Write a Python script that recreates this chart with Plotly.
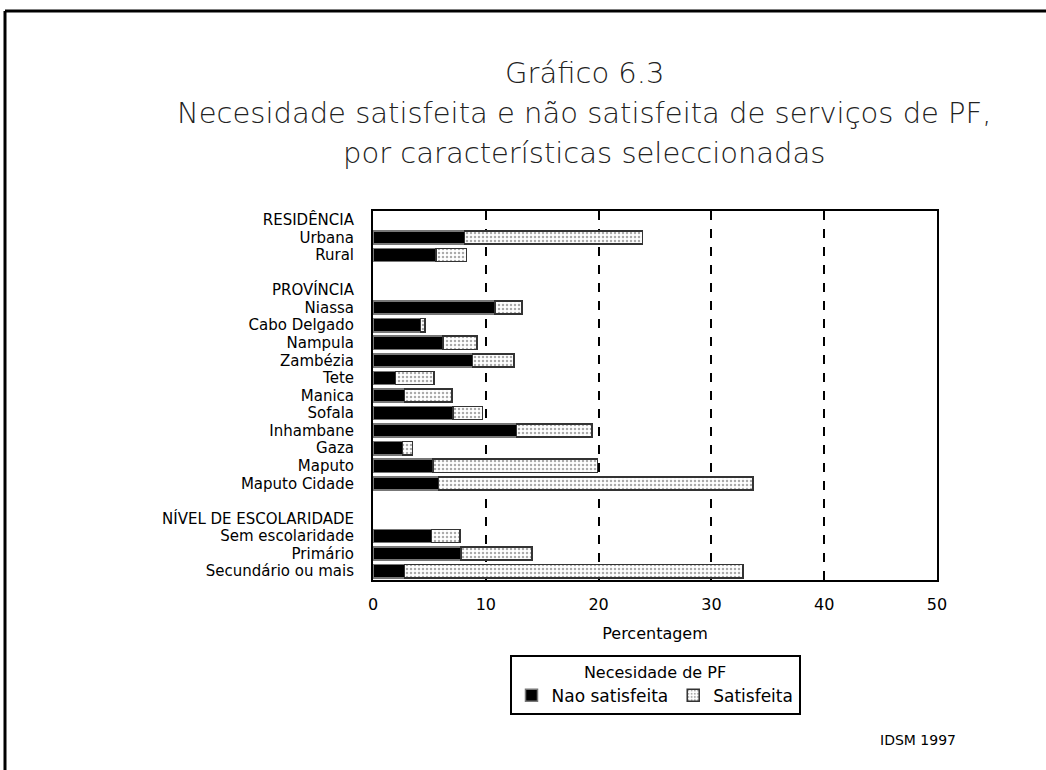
import plotly.graph_objects as go

# rows of the chart, top to bottom (headers and blank spacer rows included)
rows = ["RESIDÊNCIA", "Urbana", "Rural", " ",
        "PROVÍNCIA", "Niassa", "Cabo Delgado", "Nampula", "Zambézia", "Tete",
        "Manica", "Sofala", "Inhambane", "Gaza", "Maputo", "Maputo Cidade", "  ",
        "NÍVEL DE ESCOLARIDADE", "Sem escolaridade", "Primário", "Secundário ou mais"]

categories = ["Urbana", "Rural",
              "Niassa", "Cabo Delgado", "Nampula", "Zambézia", "Tete", "Manica",
              "Sofala", "Inhambane", "Gaza", "Maputo", "Maputo Cidade",
              "Sem escolaridade", "Primário", "Secundário ou mais"]
nao_satisfeita = [8.1, 5.6, 10.8, 4.2, 6.2, 8.8, 2.0, 2.8, 7.1, 12.7, 2.6, 5.3, 5.8, 5.2, 7.8, 2.8]
satisfeita = [15.8, 2.7, 2.4, 0.4, 3.0, 3.7, 3.4, 4.2, 2.6, 6.7, 0.9, 14.6, 27.9, 2.5, 6.3, 30.0]
x_ticks = [0, 10, 20, 30, 40, 50]

W, H = 1046, 770
ML, MR, MT, MB = 373, 109, 211, 190
PW, PH = W - ML - MR, H - MT - MB


def px(x):
    return (x - ML) / PW


def py(y):
    return (H - MB - y) / PH


FONT = "DejaVu Sans, Liberation Sans, Arial, sans-serif"

fig = go.Figure()
fig.add_trace(go.Bar(
    y=categories, x=nao_satisfeita, orientation="h", name="Nao satisfeita",
    marker=dict(color="black", line=dict(color="#777", width=1.5)),
    width=0.75,
))
fig.add_trace(go.Bar(
    y=categories, x=satisfeita, orientation="h", name="Satisfeita",
    marker=dict(color="white", line=dict(color="#333", width=1.5),
                pattern=dict(shape=".", fgcolor="#555", bgcolor="white",
                             size=4, solidity=0.3)),
    width=0.75,
))

fig.update_layout(
    width=W, height=H, barmode="stack",
    margin=dict(l=ML, r=MR, t=MT, b=MB),
    paper_bgcolor="white", plot_bgcolor="white",
    font=dict(family=FONT, color="black", size=15),
    showlegend=True,
    legend=dict(
        orientation="h", x=px(655), xanchor="center", y=py(655), yanchor="top",
        bordercolor="black", borderwidth=2, bgcolor="white",
        title=dict(text="Necesidade de PF", side="top center", font=dict(size=16)),
        font=dict(size=17), traceorder="normal", itemwidth=30,
    ),
)

fig.update_xaxes(
    range=[0, 50], tickvals=x_ticks, showgrid=True, gridcolor="black",
    griddash="dash", gridwidth=2, zeroline=False,
    showline=True, linecolor="black", linewidth=2, mirror=True,
    ticks="", tickfont=dict(size=16), ticklabelstandoff=9,
    title=dict(text="Percentagem", font=dict(size=16), standoff=15),
)
fig.update_yaxes(
    type="category", categoryorder="array", categoryarray=rows,
    tickmode="array", tickvals=rows, ticktext=rows,
    range=[len(rows) - 0.5, -0.5], autorange=False,
    showgrid=False, zeroline=False,
    showline=True, linecolor="black", linewidth=2, mirror=True,
    ticks="", ticklabelstandoff=14, tickfont=dict(size=15),
)

titles = ["Gráfico 6.3",
          "Necesidade satisfeita e não satisfeita de serviços de PF,",
          "por características seleccionadas"]
for t, yy in zip(titles, [73, 113, 153]):
    fig.add_annotation(text=t, xref="paper", yref="paper", x=px(584), y=py(yy),
                       xanchor="center", yanchor="middle", showarrow=False,
                       font=dict(size=29, color="#222", weight=200))

fig.add_annotation(text="IDSM 1997", xref="paper", yref="paper", x=px(918), y=py(740),
                   xanchor="center", yanchor="middle", showarrow=False,
                   font=dict(size=14))

# page frame (left and top edges)
fig.add_shape(type="line", xref="paper", yref="paper", x0=px(5), x1=px(5),
              y0=py(11), y1=py(H + 5), line=dict(color="black", width=3))
fig.add_shape(type="line", xref="paper", yref="paper", x0=px(5), x1=px(W + 5),
              y0=py(11), y1=py(11), line=dict(color="black", width=3))

fig.write_html("out.html", config={"displayModeBar": False},
               post_script="document.body.style.margin='0';")
